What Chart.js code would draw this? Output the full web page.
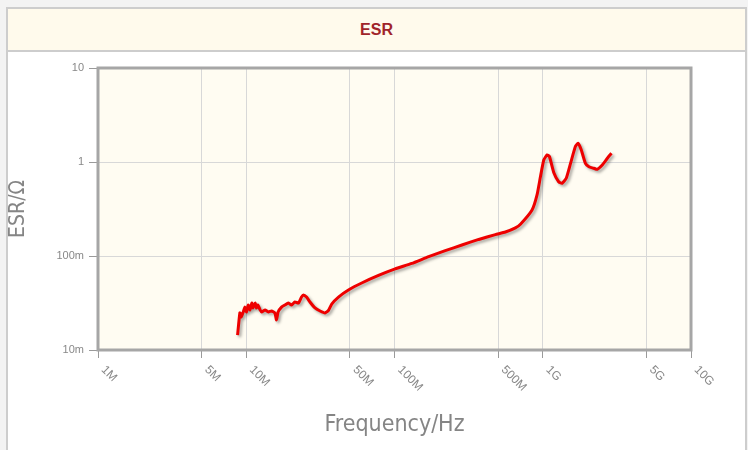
<!DOCTYPE html>
<html>
<head>
<meta charset="utf-8">
<script src="https://cdn.jsdelivr.net/npm/chart.js@4.4.0/dist/chart.umd.min.js"></script>
<style>
body{margin:0;background:#f3f3f3;width:748px;height:450px;overflow:hidden;font-family:Arial,"Liberation Sans",sans-serif}
#panel{position:absolute;left:6px;top:7px;width:737px;height:460px;border:2px solid #cdcdcd;background:#fff}
#head{height:41px;background:#fffaec;border-bottom:2px solid #cdcdcd;text-align:center;line-height:41px;color:#a0242a;font-weight:bold;font-size:16px}
#wrap{position:absolute;left:0;top:43px;width:736px;height:398px}
</style>
</head>
<body>
<div id="panel">
  <div id="head">ESR</div>
  <div id="wrap"><canvas id="esrChart" width="736" height="398"></canvas></div>
</div>
<script>
// values
const freqMHz = [8.74, 9.06, 9.25, 9.55, 9.80, 10.05, 10.3, 10.6, 10.9, 11.1, 11.5, 11.7, 12.0, 12.4, 12.7,
  13.4, 14.1, 14.8, 15.6, 16.0, 16.4, 17.3, 18.2, 19.2, 20.2, 21.3, 22.5, 23.6, 24.3, 25.5, 26.9, 29.1,
  31.5, 34.0, 35.8, 37.7, 41.9, 48.9, 60.1, 78.0, 101, 131, 170, 220, 285, 370, 479, 560, 654, 710,
  847, 915, 964, 1016, 1070, 1110, 1190, 1280, 1350, 1440, 1540, 1660, 1730, 1820, 1940, 2050, 2210,
  2330, 2520, 2720, 2910];
const esrOhm = [0.0144, 0.0248, 0.0224, 0.0254, 0.0286, 0.0254, 0.0301, 0.0267, 0.0316, 0.0280, 0.0316,
  0.0280, 0.0301, 0.0267, 0.0254, 0.0267, 0.0254, 0.0260, 0.0248, 0.0209, 0.0254, 0.0286, 0.0301, 0.0316,
  0.0301, 0.0324, 0.0316, 0.0366, 0.0385, 0.0366, 0.0324, 0.0280, 0.0260, 0.0248, 0.0263, 0.0308, 0.0366,
  0.0435, 0.0516, 0.0621, 0.0728, 0.0835, 0.0984, 0.114, 0.131, 0.150, 0.169, 0.180, 0.199, 0.219, 0.308,
  0.446, 0.692, 1.05, 1.19, 1.14, 0.763, 0.617, 0.593, 0.671, 0.968, 1.46, 1.58, 1.34, 0.968, 0.891,
  0.857, 0.836, 0.929, 1.09, 1.24];

const xTickValues = [1e6, 5e6, 1e7, 5e7, 1e8, 5e8, 1e9, 5e9, 1e10];
const xTickLabels = ['1M', '5M', '10M', '50M', '100M', '500M', '1G', '5G', '10G'];
const yTickValues = [0.01, 0.1, 1, 10];
const yTickLabels = ['10m', '100m', '1', '10'];

const points = freqMHz.map((f, i) => ({x: f * 1e6, y: esrOhm[i]}));

const titleFont = '"DejaVu Sans Condensed", "DejaVu Sans", sans-serif';

// cream plot background, frame, shadowed line, slanted x labels
const plotDeco = {
  id: 'plotDeco',
  beforeDraw(chart) {
    const {ctx, chartArea: a} = chart;
    ctx.save();
    ctx.fillStyle = '#fffcf2';
    ctx.fillRect(a.left, a.top, a.right - a.left, a.bottom - a.top);
    ctx.restore();
  },
  beforeDatasetDraw(chart) {
    const ctx = chart.ctx;
    ctx.save();
    ctx.shadowColor = 'rgba(0,0,0,0.35)';
    ctx.shadowBlur = 3;
    ctx.shadowOffsetX = 2;
    ctx.shadowOffsetY = 2;
  },
  afterDatasetDraw(chart) {
    chart.ctx.restore();
  },
  afterDraw(chart) {
    const {ctx, chartArea: a} = chart;
    const xs = chart.scales.x;
    ctx.save();
    ctx.strokeStyle = '#a6a6a6';
    ctx.lineWidth = 3;
    ctx.strokeRect(a.left, a.top, a.right - a.left, a.bottom - a.top);

    ctx.fillStyle = '#888';
    ctx.font = '12px Arial, "Liberation Sans", sans-serif';
    ctx.textAlign = 'left';
    ctx.textBaseline = 'middle';
    xTickValues.forEach((v, i) => {
      const px = xs.getPixelForValue(v);
      ctx.save();
      ctx.translate(px + 5, a.bottom + 18);
      ctx.rotate(Math.PI / 4);
      ctx.fillText(xTickLabels[i], 0, 0);
      ctx.restore();
    });
    ctx.restore();
  }
};

new Chart(document.getElementById('esrChart'), {
  type: 'line',
  data: {
    datasets: [{
      label: 'ESR',
      data: points,
      borderColor: '#ee0000',
      borderWidth: 3,
      pointRadius: 0,
      tension: 0.15,
      fill: false
    }]
  },
  options: {
    responsive: false,
    animation: false,
    devicePixelRatio: 1,
    layout: {padding: {left: 0, right: 53, top: 16, bottom: 0}},
    plugins: {legend: {display: false}, tooltip: {enabled: false}},
    scales: {
      x: {
        type: 'logarithmic',
        min: 1e6,
        max: 1e10,
        afterBuildTicks: s => { s.ticks = xTickValues.map(v => ({value: v})); },
        afterFit: s => { s.height = 100; },
        ticks: {display: false},
        grid: {color: '#d8d8d8', tickColor: '#9a9a9a', tickLength: 8, lineWidth: 1},
        border: {display: false},
        title: {
          display: true,
          text: 'Frequency/Hz',
          color: '#858585',
          font: {family: titleFont, size: 23},
          padding: {top: 0, bottom: 11}
        }
      },
      y: {
        type: 'logarithmic',
        min: 0.01,
        max: 10,
        afterBuildTicks: s => { s.ticks = yTickValues.map(v => ({value: v})); },
        afterFit: s => { s.width = 90; },
        ticks: {
          color: '#888',
          font: {family: 'Arial, "Liberation Sans", sans-serif', size: 11},
          padding: 5,
          callback: (v) => yTickLabels[yTickValues.indexOf(v)]
        },
        grid: {color: '#d8d8d8', tickColor: '#9a9a9a', tickLength: 9, lineWidth: 1},
        border: {display: false},
        title: {
          display: true,
          text: 'ESR/Ω',
          color: '#858585',
          font: {family: titleFont, size: 21, lineHeight: 1},
          padding: {top: 0, bottom: 0}
        }
      }
    }
  },
  plugins: [plotDeco]
});
</script>
</body>
</html>
